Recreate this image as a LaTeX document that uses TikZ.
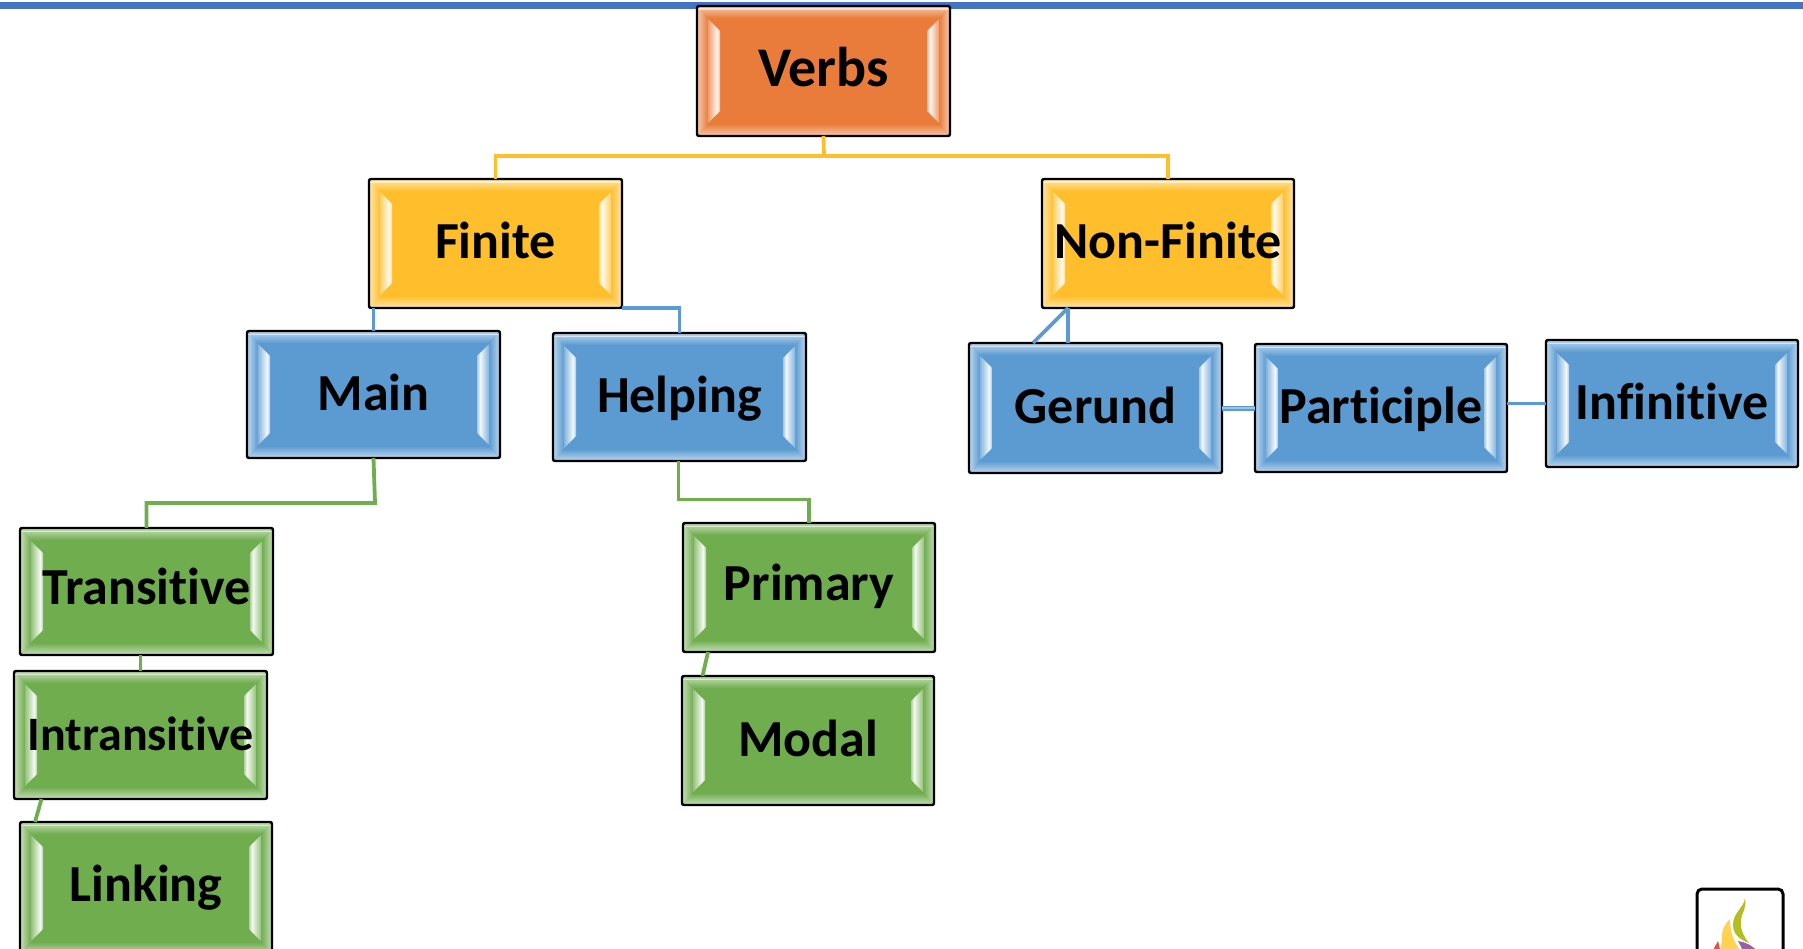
\documentclass[tikz,border=0pt]{standalone}
\usepackage{fontspec}
\setmainfont[Ligatures=NoCommon]{Carlito}
\usetikzlibrary{calc}
\definecolor{cbar}{HTML}{4472C4}
\definecolor{corange}{HTML}{E97C3A}
\definecolor{cyellow}{HTML}{FFBF2D}
\definecolor{cblue}{HTML}{5B9BD2}
\definecolor{cgreen}{HTML}{70AD4F}
\definecolor{logogreen}{HTML}{B2BE22}
\definecolor{logoyellow}{HTML}{FFD24F}
\definecolor{logopurple}{HTML}{9B5FA8}
\definecolor{logored}{HTML}{E8503A}
\newcommand{\tsize}[1]{\fontsize{#1}{#1}\selectfont\bfseries}
% name, x, y, colour, width, height, font size, text
\newcommand{\bevelnode}[8]{%
  \begin{scope}[shift={(#2,#3)}]
    \clip[rounded corners=2pt] (0,0) rectangle (#5,#6);
    \fill[#4] (0,0) rectangle (#5,#6);
    \shade[top color=#4!40!white, bottom color=#4] (0,0) -- (#5,0) -- (#5-11,12) -- (11,12) -- cycle;
    \shade[bottom color=#4!40!white, top color=#4] (0,#6) -- (#5,#6) -- (#5-11,#6-12) -- (11,#6-12) -- cycle;
    \shade[left color=#4!40!white, right color=#4] (0,0) -- (11,12) -- (11,#6-12) -- (0,#6) -- cycle;
    \shade[right color=#4!40!white, left color=#4] (#5,0) -- (#5-11,12) -- (#5-11,#6-12) -- (#5,#6) -- cycle;
    \fill[white, opacity=.55] (0,2.5) rectangle (#5,4);
    \shade[left color=#4!75!white, right color=white!92!#4] (11,13) -- (20,22) -- (20,#6-22) -- (11,#6-13) -- cycle;
    \shade[left color=white!92!#4, right color=#4!55!white] (20,22) -- (23,25) -- (23,#6-25) -- (20,#6-22) -- cycle;
    \shade[right color=#4!75!white, left color=white!92!#4] (#5-11,13) -- (#5-20,22) -- (#5-20,#6-22) -- (#5-11,#6-13) -- cycle;
    \shade[right color=white!92!#4, left color=#4!55!white] (#5-20,22) -- (#5-23,25) -- (#5-23,#6-25) -- (#5-20,#6-22) -- cycle;
  \end{scope}
  \node[bevelbox={#5}{#6}] (#1) at (#2,#3) {\tsize{#7}#8};}
\newcommand{\liftup}[1]{\raisebox{2.2pt}{#1}}
\tikzset{
  bevelbox/.style 2 args={
    draw=black, line width=2.4pt, rounded corners=2pt, anchor=north west, outer sep=0pt,
    minimum width=#1pt, minimum height=#2pt, inner sep=0pt, text=black,
    text height=35pt, text depth=4pt},
  yline/.style={draw=cyellow, line width=3.8pt},
  bline/.style={draw=cblue, line width=3.8pt},
  gline/.style={draw=cgreen, line width=3.8pt},
  logoframe/.style={draw=black, line width=3pt, rounded corners=5pt}
}
\begin{document}
\begin{tikzpicture}[x=1pt,y=-1pt]
\useasboundingbox (0,0) rectangle (1803,949);
\clip (0,0) rectangle (1803,949);
\fill[cbar] (0,2) rectangle (1803,9.5);

\coordinate (e1) at (375,503);
\coordinate (e2) at (678.5,499.5);
\coordinate (e3) at (824,156);

\bevelnode{verbs}{697}{6}{corange}{253}{130}{56}{Verbs}
\bevelnode{finite}{369}{179}{cyellow}{253}{129}{52}{Finite}
\bevelnode{nonfinite}{1042}{179}{cyellow}{252}{129}{52}{Non-Finite}
\bevelnode{main}{247}{331}{cblue}{253}{127}{52}{Main}
\bevelnode{helping}{553}{333}{cblue}{253}{128}{52}{Helping}
\bevelnode{gerund}{969}{343}{cblue}{253}{130}{52}{Gerund}
\bevelnode{participle}{1255}{344}{cblue}{252}{128}{52}{Participle}
\bevelnode{infinitive}{1546}{340}{cblue}{252}{127}{52}{Infinitive}
\bevelnode{transitive}{20}{528}{cgreen}{253}{127}{52}{\liftup{Transitive}}
\bevelnode{intransitive}{14}{671}{cgreen}{253}{128}{48}{Intransitive}
\bevelnode{linking}{20}{822}{cgreen}{252}{132}{52}{\liftup{Linking}}
\bevelnode{primary}{683}{523}{cgreen}{252}{129}{52}{\liftup{Primary}}
\bevelnode{modal}{682}{676}{cgreen}{252}{129}{52}{Modal}

\draw[yline] (verbs.south) -- (e3);
\draw[yline] (finite.north) |- (e3) -| (nonfinite.north);
\draw[bline] (main.north) -- (main.north |- finite.south);
\draw[bline] (finite.south east) -| (helping.north);
\draw[bline] ($(nonfinite.south west)+(26,0)$) -- ($(gerund.north west)+(99,0)$);
\draw[bline] ($(nonfinite.south west)+(26,0)$) -- ($(gerund.north west)+(64,0)$);
\draw[draw=cblue, line width=1.8pt, double=cblue!60!white, double distance=1.4pt] (gerund.east) -- (participle.west);
\draw[bline] (infinitive.west) -- (infinitive.west -| participle.east);
\draw[gline] (main.south) -- (e1) -| (transitive.north);
\draw[gline] (helping.south -| e2) -- (e2) -| (primary.north);
\draw[gline] (intransitive.north) -- (intransitive.north |- transitive.south);
\draw[gline] ($(intransitive.south west)+(27.5,0)$) -- ($(linking.north west)+(15,0)$);
\draw[gline] ($(primary.south west)+(25,0)$) -- ($(modal.north west)+(20.5,0)$);

% logo
\draw[logoframe] (1697,960) -- (1697,889) -- (1783,889) -- (1783,960);
\fill[logogreen] (1745,898) .. controls (1744,908) and (1733,912) .. (1733,925) .. controls (1733,935) and (1741,940) .. (1749,943) .. controls (1743,936) and (1740,928) .. (1741,920) .. controls (1742,912) and (1747,908) .. (1745,898) -- cycle;
\fill[logoyellow] (1730,919) .. controls (1724,925) and (1722,930) .. (1722,936) .. controls (1722,942) and (1721,946) .. (1720,952) -- (1741,952) .. controls (1735,943) and (1730,935) .. (1730,919) -- cycle;
\fill[logopurple] (1738,941) .. controls (1745,942) and (1752,945) .. (1758,952) -- (1743,952) .. controls (1742,948) and (1740,945) .. (1738,941) -- cycle;
\fill[logored] (1718,941) .. controls (1716,945) and (1714,948) .. (1712,952) -- (1720,952) .. controls (1720,948) and (1719,945) .. (1718,941) -- cycle;
\end{tikzpicture}
\end{document}
